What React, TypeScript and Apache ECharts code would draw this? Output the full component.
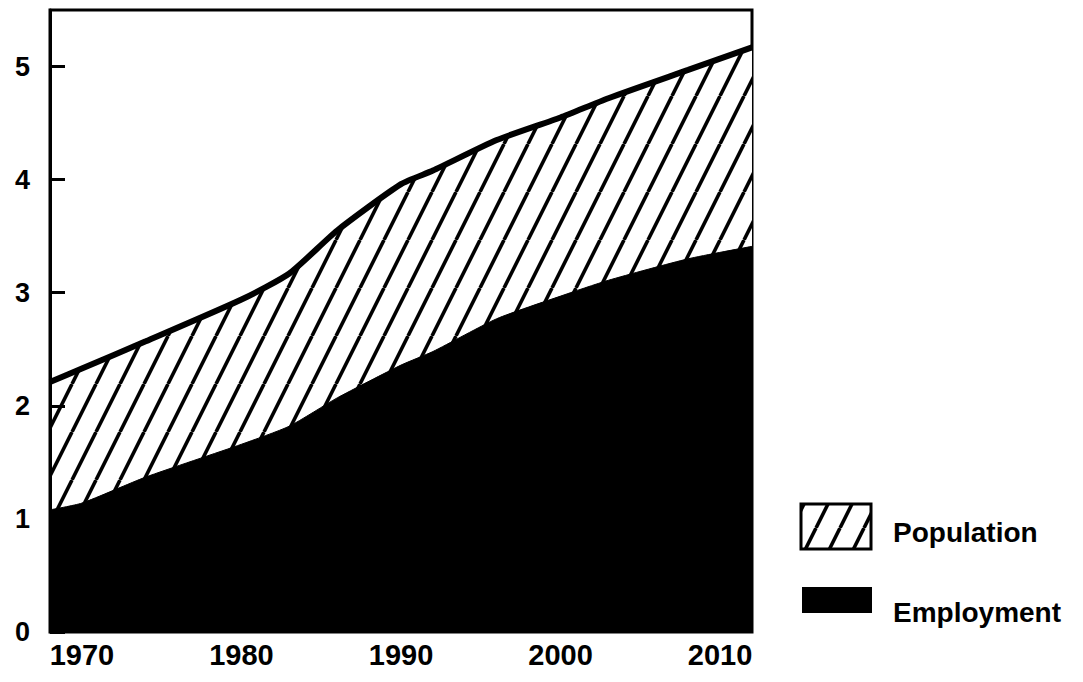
import React, { useEffect, useRef } from "react";
import * as echarts from "echarts";

const years = [1968, 1970, 1974, 1980, 1983, 1986, 1990, 1992, 1996, 2000, 2003, 2008, 2012];
const population = [2.21, 2.33, 2.57, 2.94, 3.17, 3.55, 3.96, 4.08, 4.35, 4.55, 4.72, 4.97, 5.17];
const employment = [1.08, 1.14, 1.37, 1.66, 1.82, 2.07, 2.36, 2.48, 2.77, 2.97, 3.11, 3.3, 3.41];
const xTickLabels = [1970, 1980, 1990, 2000, 2010];
const seriesNames = ["Population", "Employment"];

const FONT = "'Liberation Sans', Arial, Helvetica, sans-serif";

function makeHatch(): HTMLCanvasElement {
  const w = 24;
  const h = 48;
  const c = document.createElement("canvas");
  c.width = w;
  c.height = h;
  const ctx = c.getContext("2d")!;
  ctx.fillStyle = "#ffffff";
  ctx.fillRect(0, 0, w, h);
  ctx.strokeStyle = "#000000";
  ctx.lineWidth = 3.6;
  for (const x0 of [-48, -24, 0, 24, 48]) {
    ctx.beginPath();
    ctx.moveTo(x0, h);
    ctx.lineTo(x0 + w, 0);
    ctx.stroke();
  }
  return c;
}

export default function App() {
  const ref = useRef<HTMLDivElement>(null);
  useEffect(() => {
    if (!ref.current) return;
    const chart = echarts.init(ref.current, null, { renderer: "svg" });
    const hatch = makeHatch();
    const pattern = { image: hatch, repeat: "repeat" } as any;
    const popData = years.map((y, i) => [y, population[i]]);
    const empData = years.map((y, i) => [y, employment[i]]);
    chart.setOption({
      animation: false,
      backgroundColor: "#ffffff",
      grid: {
        left: 50,
        top: 10,
        right: 331,
        bottom: 50,
        show: true,
        borderColor: "#000",
        borderWidth: 3,
        backgroundColor: "transparent",
      },
      xAxis: {
        type: "value",
        min: 1968,
        max: 2012,
        splitLine: { show: false },
        axisLine: { show: false },
        axisTick: { show: false },
        axisLabel: {
          customValues: xTickLabels,
          color: "#000",
          fontFamily: FONT,
          fontWeight: "bold",
          fontSize: 29,
          margin: 8,
          formatter: (v: number) => String(v),
        },
      },
      yAxis: {
        type: "value",
        min: 0,
        max: 5.5,
        interval: 1,
        z: 10,
        splitLine: { show: false },
        axisLine: { show: true, lineStyle: { color: "#000", width: 3 } },
        axisTick: {
          show: true,
          inside: true,
          length: 15,
          lineStyle: { color: "#000", width: 3 },
        },
        axisLabel: {
          showMaxLabel: false,
          color: "#000",
          fontFamily: FONT,
          fontWeight: "bold",
          fontSize: 27,
          margin: 20,
        },
      },
      series: [
        {
          name: seriesNames[0],
          type: "line",
          data: popData,
          showSymbol: false,
          smooth: 0.2,
          z: 2,
          lineStyle: { color: "#000", width: 6 },
          areaStyle: { color: pattern, opacity: 1 },
          itemStyle: { color: "#000" },
        },
        {
          name: seriesNames[1],
          type: "line",
          data: empData,
          showSymbol: false,
          smooth: 0.2,
          z: 3,
          lineStyle: { color: "#000", width: 1 },
          areaStyle: { color: "#000", opacity: 1 },
          itemStyle: { color: "#000" },
        },
      ],
      graphic: [
        {
          type: "rect",
          shape: { x: 801, y: 504, width: 70, height: 45 },
          style: { fill: pattern, stroke: "#000", lineWidth: 3 },
        },
        {
          type: "text",
          x: 893,
          y: 532,
          style: {
            text: seriesNames[0],
            fill: "#000",
            font: `bold 28px ${FONT}`,
            verticalAlign: "middle",
          },
        },
        {
          type: "rect",
          shape: { x: 802, y: 587, width: 70, height: 26 },
          style: { fill: "#000" },
        },
        {
          type: "text",
          x: 893,
          y: 612,
          style: {
            text: seriesNames[1],
            fill: "#000",
            font: `bold 28px ${FONT}`,
            verticalAlign: "middle",
          },
        },
      ],
    });
    return () => chart.dispose();
  }, []);
  return <div ref={ref} style={{ width: 1083, height: 682, margin: -8 }} />;
}
